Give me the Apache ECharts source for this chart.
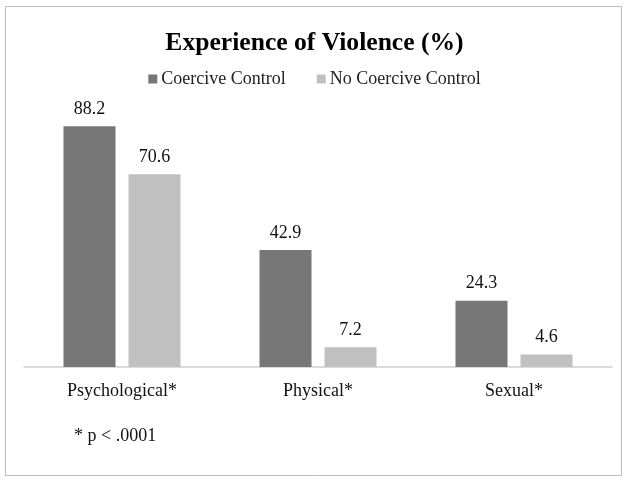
<!DOCTYPE html>
<html>
<head>
<meta charset="utf-8">
<script src="https://cdn.jsdelivr.net/npm/echarts@6/dist/echarts.min.js"></script>
<style>
  html, body { margin: 0; padding: 0; background: #fff; }
  #main { width: 629px; height: 484px; }
</style>
</head>
<body>
<div id="main"></div>
<script>
// categories and values
const categories = ['Psychological*', 'Physical*', 'Sexual*'];
const coerciveControl = [88.2, 42.9, 24.3];
const noCoerciveControl = [70.6, 7.2, 4.6];
const seriesNames = ['Coercive Control', 'No Coercive Control'];

const serif = '"Liberation Serif", "DejaVu Serif", serif';

const chart = echarts.init(document.getElementById('main'), null, { renderer: 'canvas' });

const option = {
  backgroundColor: '#fff',
  animation: false,
  title: {
    text: 'Experience of Violence (%)',
    left: 'center',
    top: 25,
    textStyle: { fontFamily: serif, fontSize: 25.6, fontWeight: 'bold', color: '#000' }
  },
  legend: {
    data: seriesNames,
    top: 65,
    left: 'center',
    icon: 'rect',
    itemWidth: 9,
    itemHeight: 9,
    itemGap: 31,
    textStyle: { fontFamily: serif, fontSize: 18, color: '#222', padding: [0, 0, 0, -1] }
  },
  grid: { left: 24, right: 17, top: 94, bottom: 117 },
  xAxis: {
    type: 'category',
    data: categories,
    axisLine: { lineStyle: { color: '#d0d0d0', width: 1.5 } },
    axisTick: { show: false },
    axisLabel: { fontFamily: serif, fontSize: 18, color: '#111', margin: 15 }
  },
  yAxis: {
    type: 'value',
    min: 0,
    max: 100,
    show: false
  },
  series: [
    {
      name: seriesNames[0],
      type: 'bar',
      data: coerciveControl,
      barWidth: 52,
      barGap: '25%',
      itemStyle: { color: '#777777' },
      label: { show: true, position: 'top', distance: 8, fontFamily: serif, fontSize: 18, color: '#111' }
    },
    {
      name: seriesNames[1],
      type: 'bar',
      data: noCoerciveControl,
      barWidth: 52,
      itemStyle: { color: '#c0c0c0' },
      label: { show: true, position: 'top', distance: 8, fontFamily: serif, fontSize: 18, color: '#111' }
    }
  ],
  graphic: [
    {
      type: 'rect',
      shape: { x: 5.5, y: 6.5, width: 616, height: 469 },
      style: { fill: 'none', stroke: '#bdbdbd', lineWidth: 1 },
      silent: true
    },
    {
      type: 'text',
      left: 74,
      top: 427,
      style: { text: '* p < .0001', font: '18px ' + serif, fill: '#111' }
    }
  ]
};

chart.setOption(option);
</script>
</body>
</html>
